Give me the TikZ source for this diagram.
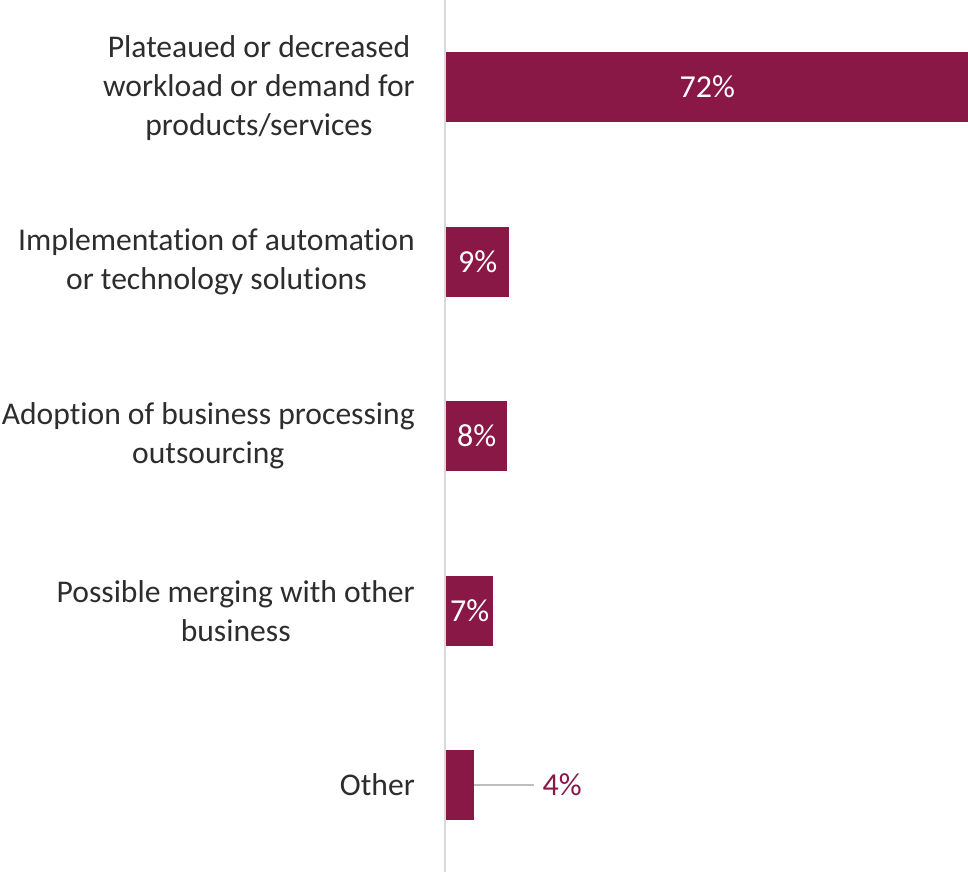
\documentclass[tikz,border=0pt]{standalone}
\usepackage{fontspec}
\setmainfont[Ligatures={NoCommon,NoContextual}, Contextuals=NoAlternate]{Carlito}
\usetikzlibrary{positioning}
\definecolor{barred}{RGB}{137,24,70}
\definecolor{textgray}{RGB}{45,45,45}
\definecolor{axisgray}{RGB}{217,217,217}
\definecolor{leadergray}{RGB}{191,191,191}

\begin{document}
\begin{tikzpicture}[x=1pt, y=-1pt,
        cat/.style={anchor=east, align=center, inner sep=0pt, text=textgray, font=\fontsize{31.6}{39}\selectfont},
        bar/.style={anchor=west, fill=barred, minimum height=70pt, inner sep=0pt, text=white, font=\fontsize{32}{38}\selectfont},
        vallbl/.style={inner sep=0pt, text=barred, font=\fontsize{32}{38}\selectfont},
        leader/.style={draw=leadergray, line width=1.5pt}
    ]
        \useasboundingbox (0,0) rectangle (968,875);

        % Axis
        \draw[axisgray, line width=1.5pt] (445,0) -- (445,872);

        % Categories
        \node[cat] (c1) at (415,88) {Plateaued or decreased\\workload or demand for\\products/services};
        \node[cat] (c2) at (415,262) {Implementation of automation\\or technology solutions};
        \node[cat] (c3) at (415,436) {Adoption of business processing\\outsourcing};
        \node[cat] (c4) at (415,611) {Possible merging with other\\business};
        \node[cat] (c5) at (415,785) {Other};

        % Bars
        \node[bar, minimum width=522pt] (b1) at (446,87) {72\%};
        \node[bar, minimum width=63pt] (b2) at (446,262) {9\%};
        \node[bar, minimum width=61pt] (b3) at (446,436) {8\%};
        \node[bar, minimum width=47pt] (b4) at (446,611) {7\%};
        \node[bar, minimum width=28pt] (b5) at (446,785) {};

        % Outside label
        \node[vallbl, anchor=west, right=68pt of b5] (v5) {4\%};
        \draw[leader, shorten >=8pt] (b5) -- (v5);
    \end{tikzpicture}
\end{document}
